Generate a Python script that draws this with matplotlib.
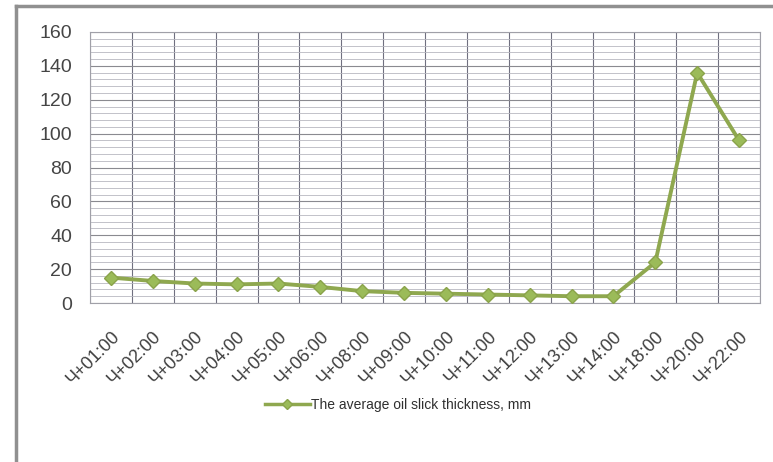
import matplotlib.pyplot as plt
from matplotlib.lines import Line2D
from matplotlib.ticker import MultipleLocator

plt.rcParams["font.family"] = ["Liberation Sans", "DejaVu Sans"]

# data
time_labels = ["Ч+01:00", "Ч+02:00", "Ч+03:00", "Ч+04:00", "Ч+05:00", "Ч+06:00",
               "Ч+08:00", "Ч+09:00", "Ч+10:00", "Ч+11:00", "Ч+12:00", "Ч+13:00",
               "Ч+14:00", "Ч+18:00", "Ч+20:00", "Ч+22:00"]
thickness = [15, 13, 11.5, 11, 11.5, 9.5, 7, 6, 5.5, 5, 4.5, 4, 4, 24, 136, 96]
series_name = "The average oil slick thickness, mm"

W, H = 773, 462
fig = plt.figure(figsize=(W / 100, H / 100), dpi=100)
ax = fig.add_axes([90 / W, 1 - 303 / H, 670 / W, 271 / H])

x = list(range(len(time_labels)))
ax.plot(x, thickness, color="#8FA84F", linewidth=2.8, marker="D", markersize=7,
        markerfacecolor="#9BBB59", markeredgecolor="#8AA34A", label=series_name, zorder=3)

ax.set_xlim(-0.5, len(time_labels) - 0.5)
ax.set_ylim(0, 160)
ax.yaxis.set_major_locator(MultipleLocator(20))
ax.yaxis.set_minor_locator(MultipleLocator(4))

# vertical lines between categories
ax.set_xticks(x)
ax.set_xticks([i - 0.5 for i in range(len(time_labels) + 1)], minor=True)
ax.xaxis.grid(True, which="minor", color="#707080", linewidth=0.8)
ax.yaxis.grid(True, which="major", color="#8a8a90", linewidth=0.8)
ax.yaxis.grid(True, which="minor", color="#b8b8c0", linewidth=0.6)
ax.set_axisbelow(True)

ax.set_xticklabels(time_labels, rotation=45, ha="right", rotation_mode="anchor",
                   fontsize=13, color="#404040")
ax.tick_params(axis="x", which="both", length=0, pad=18)
ax.tick_params(axis="y", which="both", length=0, pad=13, labelsize=14, labelcolor="#454545")

for side in ["top", "right", "left", "bottom"]:
    ax.spines[side].set_color("#a0a0a8")
    ax.spines[side].set_linewidth(0.8)

handle = Line2D([], [], color="#8FA84F", linewidth=2.5, marker="D", markersize=5,
                markerfacecolor="#9BBB59", markeredgecolor="#8AA34A")
fig.legend([handle], [series_name], loc="center", bbox_to_anchor=(398 / W, 1 - 405 / H),
           frameon=False, fontsize=10, handlelength=3.2, handletextpad=0.1,
           labelcolor="#303030")

# outer chart frame, cut off on right and bottom
fig.add_artist(Line2D([16 / W, 16 / W], [0, 1 - 6 / H], color="#909090", linewidth=2.5))
fig.add_artist(Line2D([16 / W, 1], [1 - 6 / H, 1 - 6 / H], color="#909090", linewidth=2.5))

fig.savefig("out.png", dpi=100)
